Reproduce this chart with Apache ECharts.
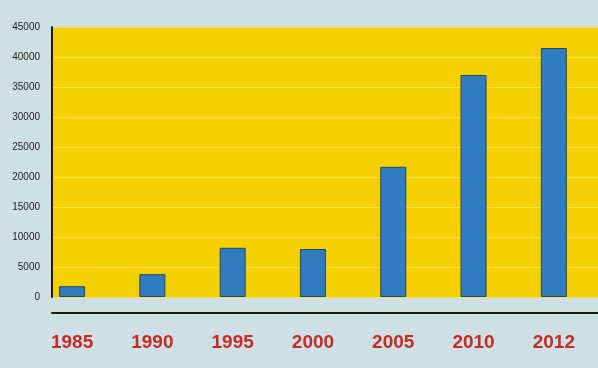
<!DOCTYPE html>
<html>
<head>
<meta charset="utf-8">
<script src="https://cdn.jsdelivr.net/npm/echarts@6/dist/echarts.min.js"></script>
<style>
html,body{margin:0;padding:0;background:#cfe0e5;}
#c{width:598px;height:368px;}
</style>
</head>
<body>
<div id="c"></div>
<script>
var years = ['1985', '1990', '1995', '2000', '2005', '2010', '2012'];
var values = [1800, 3800, 8200, 8000, 21700, 37000, 41500];
var yTicks = [0, 5000, 10000, 15000, 20000, 25000, 30000, 35000, 40000, 45000];

var barData = values.map(function (v, i) { return [i, v]; });

var chart = echarts.init(document.getElementById('c'), null, {renderer: 'canvas'});
chart.setOption({
  backgroundColor: '#cfe0e5',
  animation: false,
  grid: {
    left: 52, right: 0, top: 27, height: 270,
    show: true, backgroundColor: '#f4cf02', borderWidth: 0
  },
  xAxis: {
    type: 'value',
    min: -0.25,
    max: 6.55,
    offset: 16,
    splitLine: {show: false},
    axisTick: {show: false},
    axisLine: {show: true, onZero: false, lineStyle: {color: '#1a1a1a', width: 2}},
    axisLabel: {
      customValues: [0, 1, 2, 3, 4, 5, 6],
      formatter: function (v) { return years[Math.round(v)]; },
      color: '#c42b26',
      fontFamily: 'Liberation Sans',
      fontWeight: 'bold',
      fontSize: 19,
      margin: 20
    }
  },
  yAxis: {
    type: 'value',
    min: yTicks[0],
    max: yTicks[yTicks.length - 1],
    interval: 5000,
    axisLine: {show: true, onZero: false, lineStyle: {color: '#1a1a1a', width: 2}},
    axisTick: {show: false},
    splitLine: {show: true, lineStyle: {color: '#f6df55', width: 1}},
    axisLabel: {
      color: '#1e1e1e',
      fontFamily: 'Liberation Sans',
      fontSize: 10,
      margin: 12,
      formatter: function (v) { return String(v); }
    }
  },
  series: [{
    type: 'bar',
    data: barData,
    barWidth: 26,
    itemStyle: {color: '#2f7cbf', borderColor: '#25476b', borderWidth: 1}
  }]
});
</script>
</body>
</html>
